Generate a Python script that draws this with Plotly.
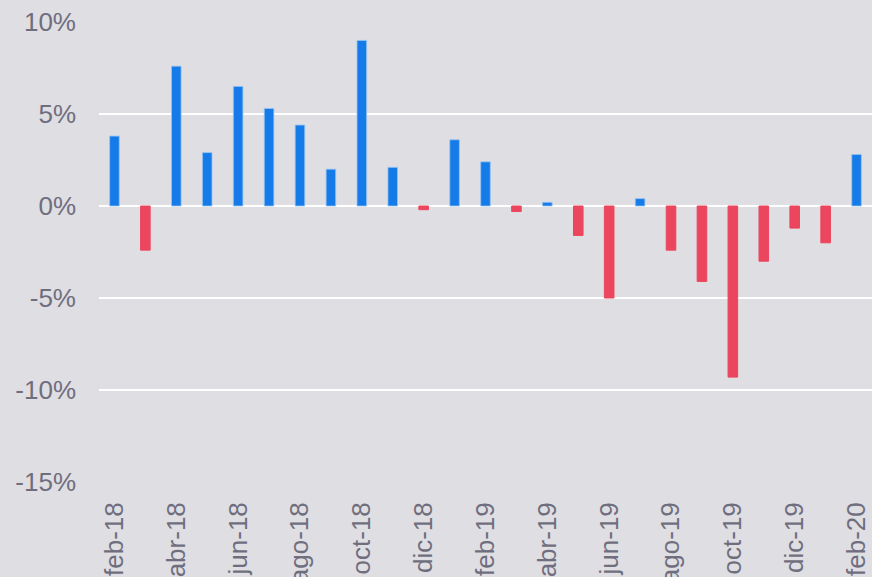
import plotly.graph_objects as go

months = ["feb-18", "mar-18", "abr-18", "may-18", "jun-18", "jul-18", "ago-18",
          "sep-18", "oct-18", "nov-18", "dic-18", "ene-19", "feb-19", "mar-19",
          "abr-19", "may-19", "jun-19", "jul-19", "ago-19", "sep-19", "oct-19",
          "nov-19", "dic-19", "ene-20", "feb-20"]
values = [3.8, -2.4, 7.6, 2.9, 6.5, 5.3, 4.4,
          2.0, 9.0, 2.1, -0.2, 3.6, 2.4, -0.3,
          0.2, -1.6, -5.0, 0.4, -2.4, -4.1, -9.3,
          -3.0, -1.2, -2.0, 2.8]
y_ticks = [-15, -10, -5, 0, 5, 10]
y_labels = ["-15%", "-10%", "-5%", "0%", "5%", "10%"]
x_tick_labels = months[::2]

BLUE = "#147be8"
RED = "#eb465d"

colors = [BLUE if v >= 0 else RED for v in values]
line_colors = ["rgba(150,195,245,0.8)" if v >= 0 else RED for v in values]

fig = go.Figure(go.Bar(
    x=months, y=values,
    marker=dict(color=colors, line=dict(color=line_colors, width=1)),
    width=0.31,
))

font_color = "#6f6e7e"
fig.update_layout(
    width=872, height=577,
    margin=dict(l=99, r=0, t=22, b=95),
    paper_bgcolor="#dfdee3", plot_bgcolor="#dfdee3",
    font=dict(family="Liberation Sans, Arial, sans-serif", size=26, color=font_color),
    showlegend=False,
)
fig.update_yaxes(
    range=[-15, 10], tickvals=y_ticks, ticktext=y_labels,
    showgrid=True, gridcolor="white", gridwidth=1.5,
    zeroline=True, zerolinecolor="white", zerolinewidth=1.5,
    showline=False, ticks="", ticklabelstandoff=22, automargin=False,
    tickfont=dict(size=26, color=font_color),
)
fig.update_xaxes(
    range=[-0.5, 24.5],
    tickmode="array", tickvals=x_tick_labels, ticktext=x_tick_labels,
    tickangle=-90, showgrid=False, zeroline=False, showline=False,
    ticks="", ticklabelstandoff=14, automargin=False,
    tickfont=dict(size=26, color=font_color),
)

fig.write_html(
    "out.html",
    config={"displayModeBar": False},
    post_script="document.body.style.margin='0';document.body.style.overflow='hidden';document.body.style.background='#dfdee3';",
)
